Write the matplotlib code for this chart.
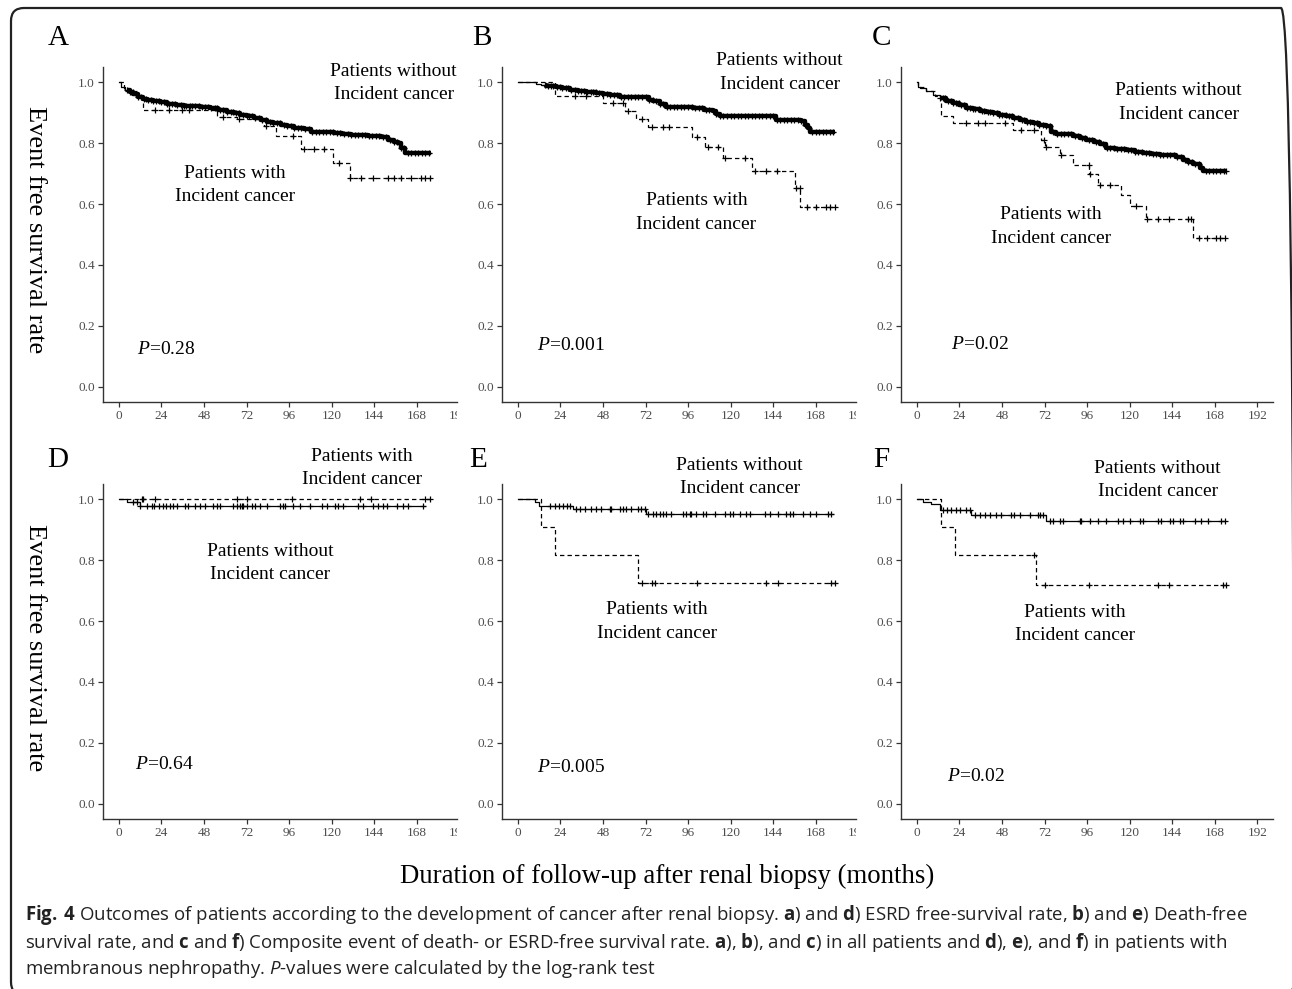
import numpy as np
import matplotlib
matplotlib.use('Agg')
import matplotlib.pyplot as plt
import matplotlib.patches as mpatches
import matplotlib.transforms as mtransforms

plt.rcParams.update({'font.family': 'Liberation Serif',
                     'mathtext.fontset': 'custom',
                     'mathtext.it': 'Liberation Serif:italic',
                     'mathtext.rm': 'Open Sans',
                     'mathtext.bf': 'Open Sans:bold',
                     'mathtext.cal': 'Open Sans:italic'})

W, H = 1292, 989

# ---- data (months, survival) ----
# A) ESRD-free, all patients
a_wo_t = [0, 1, 3.4, 6, 8.1, 11, 13.8, 16, 19.5, 23, 27, 32, 36.5, 42, 46, 51.6, 56, 61, 65, 68.6, 72, 76, 80,
          83.7, 87, 91.3, 95, 98.8, 104.5, 108.3, 121.5, 126, 131, 140.4, 148, 151.8, 155, 157.4, 159, 161.2, 176.3]
a_wo_s = [1.0, 0.985, 0.976, 0.967, 0.96, 0.952, 0.946, 0.942, 0.938, 0.934, 0.93, 0.926, 0.923, 0.921, 0.919,
          0.914, 0.909, 0.903, 0.899, 0.894, 0.889, 0.883, 0.877, 0.87, 0.866, 0.86, 0.855, 0.85, 0.845, 0.837,
          0.834, 0.83, 0.827, 0.823, 0.82, 0.81, 0.805, 0.8, 0.785, 0.768, 0.768]
a_wo_cens = [4.5, 6.5, 8, 9.5, 11, 12.5, 14, 15, 16.5, 18, 19.5, 21, 22.5, 24, 25.5, 27, 28.5, 30, 31.5, 33, 35,
             36.5, 38, 40, 41.5, 43, 45, 47, 48.5, 50, 52, 54, 55.5, 57, 59, 61, 63, 64.5, 66, 68, 70, 72, 73.5,
             75, 77, 79, 81, 83, 85, 87, 89, 91, 93, 95, 97, 99, 101, 103, 105, 107, 109, 111, 113, 115, 117, 119,
             121, 123, 125, 127, 129, 131, 133, 135, 137, 139, 141, 143, 145, 147, 149, 151, 153, 155, 157, 159,
             161, 163, 165, 167, 169, 171, 173, 175]
a_wi_t = [0, 3, 10, 13.8, 55.4, 66.7, 81.8, 88.5, 102.6, 121, 130.4, 175.4]
a_wi_s = [1.0, 0.97, 0.95, 0.91, 0.886, 0.88, 0.856, 0.823, 0.78, 0.735, 0.684, 0.684]
a_wi_cens = [20.4, 28, 35.5, 39.3, 58.8, 68, 82.8, 98.5, 104.5, 110.2, 115.9, 124.4, 130.6, 136.6, 143.3,
             151.8, 155.5, 159.3, 165, 170.7, 172.6, 175.4]

# B) death-free, all patients
b_wo_t = [0, 10.3, 13, 16, 19, 21.6, 25, 29.2, 34, 38.6, 44.2, 48, 51.7, 57.4, 68, 72.4, 74, 76.2, 80, 83.7,
          98.8, 105, 110, 112, 113.8, 143.9, 145.8, 160, 162, 163.5, 164.6, 178.7]
b_wo_s = [1.0, 0.995, 0.992, 0.989, 0.986, 0.984, 0.98, 0.975, 0.972, 0.969, 0.964, 0.962, 0.959, 0.953,
          0.951, 0.95, 0.943, 0.937, 0.928, 0.92, 0.915, 0.91, 0.904, 0.897, 0.89, 0.888, 0.877, 0.874, 0.86,
          0.849, 0.835, 0.835]
b_wo_cens = [15, 17, 18.5, 20, 22, 23.5, 25, 27, 28.5, 30, 32, 34, 35.5, 37, 39, 41, 42.5, 44, 46, 48, 50, 52,
             54, 56, 58, 60, 62, 64, 66, 68, 70, 72, 74, 76, 78, 80, 82, 84, 86, 88, 90, 92, 94, 96, 98, 100, 102,
             104, 106, 108, 110, 112, 114, 116, 118, 120, 122, 124, 126, 128, 130, 132, 134, 136, 138, 140, 142,
             144, 146, 148, 150, 152, 154, 156, 158, 160, 162, 164, 166, 168, 170, 172, 174, 176, 178]
b_wi_t = [0, 20.7, 48, 60.2, 66.8, 73.4, 98.2, 105.7, 116, 132, 156.2, 159.4, 178.7]
b_wi_s = [1.0, 0.955, 0.933, 0.906, 0.879, 0.852, 0.82, 0.787, 0.75, 0.707, 0.653, 0.59, 0.59]
b_wi_cens = [32, 38.6, 53.6, 59.3, 62, 70.2, 75.8, 81.8, 85.2, 101, 107.2, 112.9, 117, 127.9, 133.6, 139.8,
             146.2, 157, 159, 163.3, 168.4, 174, 175.9, 178.7]

# C) composite death- or ESRD-free, all patients
c_wo_t = [0, 0.5, 1.5, 5.3, 9, 12.8, 16.5, 20.3, 24, 27.8, 31.5, 35.4, 39, 42.9, 46.5, 50.4, 54, 57.9, 61.5,
          65.5, 69, 73, 75.8, 78.6, 88, 92, 95.6, 100, 103.1, 106.9, 112, 118.2, 123, 127.6, 132, 137, 146.4,
          150.1, 153, 155.8, 159.5, 161.4, 174.6]
c_wo_s = [1.0, 0.985, 0.98, 0.97, 0.959, 0.948, 0.94, 0.931, 0.924, 0.917, 0.912, 0.907, 0.903, 0.898, 0.893,
          0.888, 0.882, 0.877, 0.871, 0.866, 0.86, 0.855, 0.838, 0.83, 0.822, 0.816, 0.811, 0.803, 0.797, 0.784,
          0.78, 0.776, 0.771, 0.767, 0.763, 0.76, 0.756, 0.745, 0.738, 0.731, 0.718, 0.71, 0.71]
c_wo_cens = [13, 14.5, 16, 17.5, 19, 20.5, 22, 23.5, 25, 26.5, 28, 30, 31.5, 33, 35, 36.5, 38, 40, 41.5, 43, 45,
             46.5, 48, 50, 52, 53.5, 55, 57, 59, 60.5, 62, 64, 66, 67.5, 69, 71, 73, 75, 77, 79, 81, 83, 85, 87,
             89, 91, 93, 95, 97, 99, 101, 103, 105, 107, 109, 111, 113, 115, 117, 119, 121, 123, 125, 127, 129,
             131, 133, 135, 137, 139, 141, 143, 145, 147, 149, 151, 153, 155, 157, 159, 161, 163, 165, 167, 169,
             171, 173, 174.6]
c_wi_t = [0, 0.5, 5, 10, 13.7, 20.3, 54.2, 70.2, 72, 80.5, 88, 97.1, 102.2, 115.3, 120, 129.4, 155.8, 174.6]
c_wi_s = [1.0, 0.985, 0.97, 0.955, 0.888, 0.866, 0.842, 0.811, 0.787, 0.76, 0.729, 0.699, 0.664, 0.631, 0.593,
          0.552, 0.488, 0.488]
c_wi_cens = [27.8, 34.4, 38.2, 49.5, 58.9, 65.9, 71.5, 73, 81.5, 96.8, 97.5, 103.1, 108.7, 123.4, 130, 136,
             142.2, 153, 154.8, 159.2, 163.9, 169, 170.8, 173.7]

# D) ESRD-free, membranous nephropathy
d_wo_t = [0, 4.3, 11.9, 172.7]
d_wo_s = [1.0, 0.99, 0.978, 0.978]
d_wo_cens = [8.1, 10, 11.9, 15.6, 18.4, 19.8, 22.8, 25, 26.5, 28.8, 30.7, 32.5, 37.3, 39.1, 42.9, 45.7, 48.5,
             53.2, 55.1, 57, 64.5, 66.8, 68.3, 69.2, 70.2, 72, 74.9, 76.8, 79.6, 83.3, 90.9, 92.4, 93.7, 98.4,
             102.2, 107.8, 114.4, 117.2, 121.9, 123.8, 126.6, 135.1, 137.9, 143.6, 146.4, 149.2, 151.1, 156.7,
             160.5, 163.3, 171.8]
d_wi_t = [0, 175.5]
d_wi_s = [1.0, 1.0]
d_wi_cens = [12.8, 13.7, 20.3, 66.8, 72, 97.5, 136, 142, 172.7, 175.5]

# E) death-free, membranous nephropathy
e_wo_t = [0, 9.4, 11.7, 31, 72.4, 177.8]
e_wo_s = [1.0, 0.99, 0.979, 0.968, 0.951, 0.951]
e_wo_cens = [17.9, 20.7, 23, 25.4, 27.7, 29.2, 32.9, 35.2, 37.6, 41.4, 44.2, 47, 51.7, 52.7, 57.4, 59.3, 61.1,
             64, 67.7, 69.6, 71.5, 73.4, 76.2, 78.1, 80, 81.8, 83.7, 86.5, 93.1, 95, 96.9, 97.8, 100.7, 104.4,
             106.3, 111, 116.7, 119.5, 121.4, 125.1, 128.9, 130.8, 139.2, 142, 146.8, 151.5, 153.3, 155.2, 160.9,
             164.6, 168.4, 175, 176.9]
e_wi_t = [0, 13.2, 21.1, 67.7, 178.7]
e_wi_s = [1.0, 0.91, 0.817, 0.726, 0.726]
e_wi_cens = [70.2, 75.8, 77.1, 101, 140.2, 146.8, 176.9, 178.7]

# F) composite, membranous nephropathy
f_wo_t = [0, 3.4, 8.1, 12.8, 30.7, 73, 173.7]
f_wo_s = [1.0, 0.992, 0.985, 0.963, 0.949, 0.93, 0.93]
f_wo_cens = [14.7, 16.9, 19.4, 22.2, 24.1, 27.8, 29.7, 32.5, 35.4, 38.2, 41, 44.8, 47.6, 53.2, 54.6, 57.9, 63.6,
             68.3, 69.2, 71.1, 74.9, 76.8, 80.5, 82.4, 91.8, 92.8, 97.5, 102.2, 106.9, 113.5, 116.3, 120, 125.7,
             127.6, 136, 137.9, 142.6, 144.5, 148.3, 150.1, 156.7, 160.5, 164.3, 171.8, 173.7]
f_wi_t = [0, 13.7, 21.3, 67.4, 174.6]
f_wi_s = [1.0, 0.91, 0.817, 0.717, 0.717]
f_wi_cens = [65.9, 72.1, 97.1, 136, 142.2, 172.7, 174.6]

p_values = {'A': '0.28', 'B': '0.001', 'C': '0.02', 'D': '0.64', 'E': '0.005', 'F': '0.02'}
x_ticks = [0, 24, 48, 72, 96, 120, 144, 168, 192]
y_ticks = [0.0, 0.2, 0.4, 0.6, 0.8, 1.0]

lbl_without = 'Patients without\nIncident cancer'
lbl_with = 'Patients with\nIncident cancer'

# panel layout in pixels: (left, right, top, bottom), x max, label positions
# curve tuple: times, survival, censor times, dashed?, dense censoring?
panels = {
    'A': dict(box=(103, 457, 67, 402), xmax=190.8,
              curves=[(a_wo_t, a_wo_s, a_wo_cens, False, True), (a_wi_t, a_wi_s, a_wi_cens, True, False)],
              txt_wo=(155, 0.997), txt_wi=(65.5, 0.662), ptxt=(10.2, 0.121), letter=(48, 45)),
    'B': dict(box=(502, 856, 67, 402), xmax=190.8,
              curves=[(b_wo_t, b_wo_s, b_wo_cens, False, True), (b_wi_t, b_wi_s, b_wi_cens, True, False)],
              txt_wo=(147.7, 1.032), txt_wi=(100.8, 0.573), ptxt=(10.6, 0.137), letter=(472, 45)),
    'C': dict(box=(901, 1273, 67, 402), xmax=200.9,
              curves=[(c_wo_t, c_wo_s, c_wo_cens, False, True), (c_wi_t, c_wi_s, c_wi_cens, True, False)],
              txt_wo=(147.7, 0.934), txt_wi=(75.5, 0.527), ptxt=(19, 0.14), letter=(872, 45)),
    'D': dict(box=(103, 457, 484, 819), xmax=190.8,
              curves=[(d_wo_t, d_wo_s, d_wo_cens, False, False), (d_wi_t, d_wi_s, d_wi_cens, True, False)],
              txt_wo=(85.2, 0.791), txt_wi=(137.1, 1.103), ptxt=(9, 0.129), letter=(47, 467)),
    'E': dict(box=(502, 856, 484, 819), xmax=190.8,
              curves=[(e_wo_t, e_wo_s, e_wo_cens, False, False), (e_wi_t, e_wi_s, e_wi_cens, True, False)],
              txt_wo=(125.1, 1.073), txt_wi=(78.3, 0.598), ptxt=(10.6, 0.119), letter=(469, 467)),
    'F': dict(box=(901, 1273, 484, 819), xmax=200.9,
              curves=[(f_wo_t, f_wo_s, f_wo_cens, False, False), (f_wi_t, f_wi_s, f_wi_cens, True, False)],
              txt_wo=(135.8, 1.063), txt_wi=(89, 0.591), ptxt=(16.8, 0.09), letter=(873, 467)),
}

TICK_COL = '#4d4d4d'


def km_curve(ax, t, s, cens, dashed, dense):
    t = np.asarray(t, dtype=float)
    s = np.asarray(s, dtype=float)
    ls = (0, (3.5, 2.5)) if dashed else '-'
    ax.plot(t, s, drawstyle='steps-post', color='black', lw=0.9, linestyle=ls, zorder=3)
    idx = np.searchsorted(t, cens, side='right') - 1
    if dense:
        # censor marks pile up into a solid band in the original
        i0 = idx[0]
        ax.plot(np.r_[cens[0], t[i0 + 1:]], s[i0:], drawstyle='steps-post', color='black', lw=3.2,
                solid_capstyle='butt', zorder=3)
    ax.plot(cens, s[idx], linestyle='None', marker='+', ms=5, mew=0.9, color='black', zorder=4)


fig = plt.figure(figsize=(W / 100, H / 100), dpi=100)

for key, p in panels.items():
    x0, x1, y0, y1 = p['box']
    ax = fig.add_axes([x0 / W, 1 - y1 / H, (x1 - x0) / W, (y1 - y0) / H])
    for t, s, cens, dashed, dense in p['curves']:
        km_curve(ax, t, s, cens, dashed, dense)

    ax.set_xlim(-9, p['xmax'])
    ax.set_ylim(-0.05, 1.05)
    ax.set_xticks([v for v in x_ticks if v <= p['xmax']])
    ax.set_yticks(y_ticks)
    ax.set_yticklabels(['%.1f' % v for v in y_ticks])
    for side in ['top', 'right']:
        ax.spines[side].set_visible(False)
    for side in ['left', 'bottom']:
        ax.spines[side].set_color('#333333')
        ax.spines[side].set_linewidth(1.0)
    ax.tick_params(length=3.5, width=0.9, color='#333333', labelcolor=TICK_COL, labelsize=9.5, pad=2.5)

    # 192 label cut off where the panel was cropped
    if p['xmax'] < 192:
        tr = mtransforms.blended_transform_factory(ax.transData, ax.transAxes)
        t192 = fig.text(192, -0.0405, '192', transform=tr, ha='center', va='center',
                        fontsize=9.5, color=TICK_COL)
        t192.set_clip_box(mtransforms.TransformedBbox(
            mtransforms.Bbox([[0, 0], [x1 / W, 1]]), fig.transFigure))
        t192.set_clip_on(True)

    ax.text(*p['txt_wo'], lbl_without, ha='center', va='center', fontsize=14, linespacing=1.5)
    ax.text(*p['txt_wi'], lbl_with, ha='center', va='center', fontsize=14, linespacing=1.5)
    ax.text(*p['ptxt'], r'$\mathit{P}$=' + p_values[key], ha='left', va='center', fontsize=14)

    lx, ly = p['letter']
    fig.text(lx / W, 1 - ly / H, key, fontsize=21, ha='left', va='baseline')

# shared axis titles
fig.text(35 / W, 1 - 230 / H, 'Event free survival rate', rotation=270, ha='center', va='center', fontsize=19)
fig.text(35 / W, 1 - 648 / H, 'Event free survival rate', rotation=270, ha='center', va='center', fontsize=19)
fig.text(667 / W, 1 - 876 / H, 'Duration of follow-up after renal biopsy (months)', ha='center', va='center',
         fontsize=19.3)

# caption
caption = [
    r'$\mathbf{Fig.\ 4}$ Outcomes of patients according to the development of cancer after renal biopsy. '
    r'$\mathbf{a}$) and $\mathbf{d}$) ESRD free-survival rate, $\mathbf{b}$) and $\mathbf{e}$) Death-free',
    r'survival rate, and $\mathbf{c}$ and $\mathbf{f}$) Composite event of death- or ESRD-free survival rate. '
    r'$\mathbf{a}$), $\mathbf{b}$), and $\mathbf{c}$) in all patients and $\mathbf{d}$), $\mathbf{e}$), and '
    r'$\mathbf{f}$) in patients with',
    r'membranous nephropathy. $\mathcal{P}$-values were calculated by the log-rank test',
]
for i, line in enumerate(caption):
    fig.text(25 / W, 1 - (915 + 27 * i) / H, line, ha='left', va='center', fontsize=13.4,
             family='Open Sans', color='#222222')

frame = mpatches.FancyBboxPatch((11, -6), 1283, 987, boxstyle='round,pad=0,rounding_size=13',
                                transform=mtransforms.IdentityTransform(), fill=False, lw=1.6,
                                edgecolor='#222222')
fig.add_artist(frame)

fig.savefig('out.png', dpi=100)
